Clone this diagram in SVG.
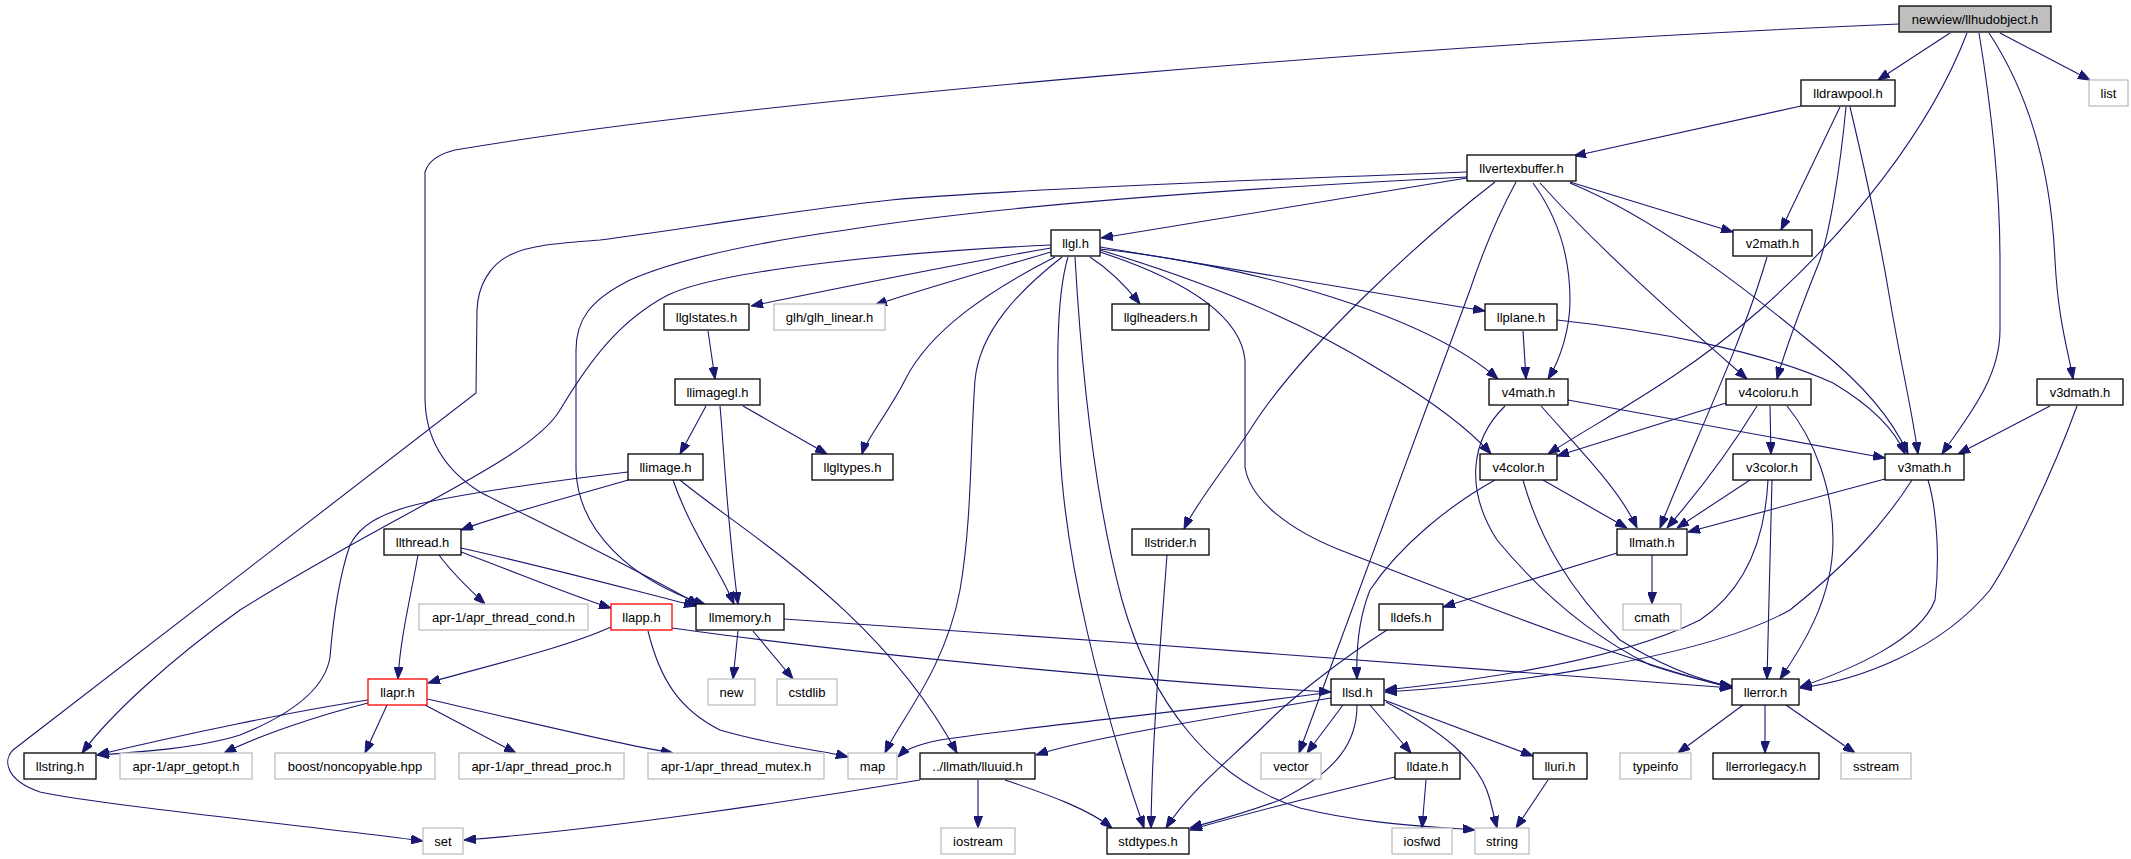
<svg xmlns="http://www.w3.org/2000/svg" width="2131" height="859" viewBox="0 0 2131 859">
<defs>
<style>
.n rect{fill:#ffffff;stroke:#000000;stroke-width:1.3}
.g rect{fill:#ffffff;stroke:#bfbfbf;stroke-width:1.3}
.r rect{fill:#ffffff;stroke:#ff0000;stroke-width:1.3}
.root rect{fill:#bfbfbf;stroke:#000000;stroke-width:1.3}
text{font-family:"Liberation Sans",Arial,sans-serif;font-size:13px;text-anchor:middle;fill:#000000}
#edges path{fill:none;stroke:#191970;stroke-width:1.1;marker-end:url(#ah)}
</style>
<marker id="ah" viewBox="0 0 12 9" refX="12" refY="4.5" markerWidth="12" markerHeight="9" markerUnits="userSpaceOnUse" orient="auto"><path d="M0,0 L12,4.5 L0,9 z" fill="#191970" stroke="#191970" stroke-width="1"/></marker>
</defs>
<rect x="0" y="0" width="2131" height="859" fill="#ffffff"/>
<g id="edges">
<path d="M1899,24 C1400,45 750,100 455,150 Q430,156 425,172 L425,397 C425,440 445,470 480,492 C520,513 620,560 699,605"/>
<path d="M1950,33 L1878,80"/>
<path d="M1967,33 C1930,130 1850,230 1760,310 C1680,380 1600,420 1548,454"/>
<path d="M1979,33 C1990,100 2000,180 2000,260 L2000,330 C2000,380 1965,420 1942,454"/>
<path d="M1989,33 C2020,80 2050,150 2055,260 C2058,320 2068,350 2073,379"/>
<path d="M2000,33 L2090,80"/>
<path d="M1801,106 L1574,156"/>
<path d="M1840,107 L1781,230"/>
<path d="M1846,107 C1840,170 1830,230 1820,260 C1800,310 1785,350 1777,379"/>
<path d="M1850,107 C1865,170 1880,240 1890,300 C1900,360 1912,410 1918,454"/>
<path d="M1467,178 L1101,238"/>
<path d="M1570,182 L1733,232"/>
<path d="M1467,177 C1250,188 1000,205 846,230 C760,242 680,258 630,280 C590,300 576,320 576,350 L576,470 C578,530 630,580 706,605"/>
<path d="M1467,172 C1250,180 1000,190 891,200 C780,212 680,230 600,240 C560,243 530,245 510,255 C490,265 478,285 477,310 L476,393 L13,750 C3,760 5,780 40,792 C100,805 300,825 423,841"/>
<path d="M1495,182 C1420,240 1300,350 1250,430 C1220,475 1195,505 1184,529"/>
<path d="M1516,182 Q1490,230 1470,290 L1299,753"/>
<path d="M1533,183 C1560,220 1570,260 1570,300 C1570,330 1560,360 1548,379"/>
<path d="M1540,183 C1600,250 1680,320 1747,379"/>
<path d="M1570,183 C1660,220 1760,300 1820,350 C1870,390 1895,425 1908,454"/>
<path d="M1557,320 C1650,330 1760,350 1833,383 C1870,405 1895,430 1905,454"/>
<path d="M1523,331 L1526,379"/>
<path d="M1051,248 C950,265 830,290 751,306"/>
<path d="M1051,252 C990,270 920,290 875,305"/>
<path d="M1055,257 C990,290 930,330 905,380 C890,410 866,440 862,454"/>
<path d="M1051,245 C900,252 720,270 668,295 C620,320 590,360 560,410 C530,460 400,510 240,610 C170,660 110,715 82,753"/>
<path d="M1062,257 C1020,290 980,330 975,380 C970,450 972,520 960,590 C945,670 900,720 885,753"/>
<path d="M1068,257 C1055,300 1057,380 1060,450 C1065,560 1100,700 1144,828"/>
<path d="M1075,257 C1082,380 1095,500 1122,600 C1150,700 1210,780 1300,808 C1370,825 1430,826 1475,830"/>
<path d="M1090,257 C1110,270 1125,285 1140,304"/>
<path d="M1100,247 L1485,311"/>
<path d="M1100,249 C1230,262 1420,310 1498,379"/>
<path d="M1100,250 C1200,280 1300,320 1380,370 C1430,400 1470,430 1491,454"/>
<path d="M1100,252 C1170,275 1240,310 1245,360 L1245,467 C1250,500 1290,530 1340,550 C1470,600 1620,660 1732,688"/>
<path d="M628,472 C560,480 450,495 407,507 C380,515 360,525 350,545 C338,580 333,620 330,657 C325,690 290,715 240,735 C200,748 140,752 97,755"/>
<path d="M628,480 C560,500 500,515 461,530"/>
<path d="M673,480 C690,530 720,570 734,604"/>
<path d="M680,480 C740,530 880,610 957,753"/>
<path d="M706,406 L680,454"/>
<path d="M720,406 C724,450 727,520 738,604"/>
<path d="M743,406 L827,454"/>
<path d="M708,331 L715,379"/>
<path d="M439,555 C450,570 470,590 485,604"/>
<path d="M461,552 C510,570 570,595 611,608"/>
<path d="M461,548 C560,570 650,595 696,606"/>
<path d="M418,555 C410,600 400,640 398,679"/>
<path d="M611,627 C560,650 470,670 428,683"/>
<path d="M648,631 C660,680 680,710 720,730 C770,745 820,750 848,757"/>
<path d="M672,628 C900,660 1200,685 1331,692"/>
<path d="M738,631 L733,679"/>
<path d="M753,631 L793,679"/>
<path d="M784,619 C1100,640 1500,670 1732,688"/>
<path d="M368,700 C300,710 180,735 97,755"/>
<path d="M368,703 C320,715 260,735 224,753"/>
<path d="M387,705 L365,753"/>
<path d="M425,705 L516,753"/>
<path d="M427,699 C520,720 620,745 673,753"/>
<path d="M920,780 C800,800 600,830 464,840"/>
<path d="M978,780 L978,828"/>
<path d="M1005,780 C1050,795 1090,810 1112,828"/>
<path d="M1331,692 C1200,710 1000,730 940,740 C915,745 905,750 898,757"/>
<path d="M1331,698 C1200,720 1080,740 1036,755"/>
<path d="M1343,705 L1307,753"/>
<path d="M1370,705 L1411,753"/>
<path d="M1384,700 L1533,756"/>
<path d="M1386,702 C1440,730 1480,760 1490,800 L1497,828"/>
<path d="M1357,705 C1357,740 1340,770 1280,800 C1240,815 1210,822 1190,828"/>
<path d="M1395,777 C1320,795 1240,815 1190,830"/>
<path d="M1426,780 L1422,828"/>
<path d="M1548,780 L1516,828"/>
<path d="M1387,630 C1340,660 1290,700 1270,720 C1230,760 1190,790 1166,828"/>
<path d="M1167,555 C1160,650 1152,740 1151,828"/>
<path d="M1743,705 L1678,753"/>
<path d="M1765,705 L1765,753"/>
<path d="M1786,705 L1855,753"/>
<path d="M1652,555 L1652,604"/>
<path d="M1617,553 L1443,607"/>
<path d="M1767,257 C1740,350 1690,450 1660,528"/>
<path d="M1568,400 L1885,458"/>
<path d="M1541,406 C1580,450 1620,490 1637,528"/>
<path d="M1505,406 C1470,440 1465,490 1497,540 C1530,580 1580,630 1650,665 C1690,678 1710,683 1732,686"/>
<path d="M1543,480 L1627,528"/>
<path d="M1523,480 C1540,540 1570,590 1620,640 C1660,665 1700,680 1732,687"/>
<path d="M1495,480 C1450,505 1400,545 1370,590 C1358,620 1356,650 1357,679"/>
<path d="M1726,403 L1557,456"/>
<path d="M1770,406 L1771,454"/>
<path d="M1757,406 C1730,450 1700,490 1667,528"/>
<path d="M1787,406 C1815,440 1833,490 1833,540 C1833,600 1800,650 1780,679"/>
<path d="M1750,480 L1677,528"/>
<path d="M1768,480 C1765,540 1745,590 1700,620 C1620,660 1480,680 1385,690"/>
<path d="M1772,480 C1770,560 1768,620 1767,679"/>
<path d="M1885,479 L1688,532"/>
<path d="M1912,480 C1880,530 1840,570 1790,610 C1700,660 1500,685 1385,692"/>
<path d="M1928,480 C1937,510 1940,560 1935,600 C1920,640 1850,670 1800,687"/>
<path d="M2050,406 L1958,454"/>
<path d="M2077,406 C2050,480 2010,560 1990,590 C1940,650 1860,680 1800,688"/>
</g>
<g id="hud" class="root"><rect x="1899" y="6" width="152" height="26"/><text x="1975" y="24">newview/llhudobject.h</text></g>
<g id="lldrawpool" class="n"><rect x="1801" y="80" width="94" height="26"/><text x="1848" y="98">lldrawpool.h</text></g>
<g id="list" class="g"><rect x="2089" y="80" width="39" height="26"/><text x="2108.5" y="98">list</text></g>
<g id="llvertexbuffer" class="n"><rect x="1467" y="155" width="109" height="26"/><text x="1521.5" y="173">llvertexbuffer.h</text></g>
<g id="llgl" class="n"><rect x="1051" y="230" width="49" height="26"/><text x="1075.5" y="248">llgl.h</text></g>
<g id="v2math" class="n"><rect x="1733" y="230" width="79" height="26"/><text x="1772.5" y="248">v2math.h</text></g>
<g id="llglstates" class="n"><rect x="664" y="304" width="85" height="26"/><text x="706.5" y="322">llglstates.h</text></g>
<g id="glh_linear" class="g"><rect x="774" y="304" width="111" height="26"/><text x="829.5" y="322">glh/glh_linear.h</text></g>
<g id="llglheaders" class="n"><rect x="1112" y="304" width="97" height="26"/><text x="1160.5" y="322">llglheaders.h</text></g>
<g id="llplane" class="n"><rect x="1485" y="304" width="72" height="26"/><text x="1521" y="322">llplane.h</text></g>
<g id="llimagegl" class="n"><rect x="675" y="379" width="85" height="26"/><text x="717.5" y="397">llimagegl.h</text></g>
<g id="v4math" class="n"><rect x="1489" y="379" width="79" height="26"/><text x="1528.5" y="397">v4math.h</text></g>
<g id="v4coloru" class="n"><rect x="1726" y="379" width="85" height="26"/><text x="1768.5" y="397">v4coloru.h</text></g>
<g id="v3dmath" class="n"><rect x="2037" y="379" width="86" height="26"/><text x="2080" y="397">v3dmath.h</text></g>
<g id="llimage" class="n"><rect x="628" y="454" width="75" height="26"/><text x="665.5" y="472">llimage.h</text></g>
<g id="llgltypes" class="n"><rect x="812" y="454" width="81" height="26"/><text x="852.5" y="472">llgltypes.h</text></g>
<g id="v4color" class="n"><rect x="1480" y="454" width="77" height="26"/><text x="1518.5" y="472">v4color.h</text></g>
<g id="v3color" class="n"><rect x="1733" y="454" width="78" height="26"/><text x="1772" y="472">v3color.h</text></g>
<g id="v3math" class="n"><rect x="1885" y="454" width="79" height="26"/><text x="1924.5" y="472">v3math.h</text></g>
<g id="llthread" class="n"><rect x="384" y="529" width="77" height="26"/><text x="422.5" y="547">llthread.h</text></g>
<g id="llstrider" class="n"><rect x="1132" y="529" width="77" height="26"/><text x="1170.5" y="547">llstrider.h</text></g>
<g id="llmath" class="n"><rect x="1617" y="529" width="70" height="26"/><text x="1652" y="547">llmath.h</text></g>
<g id="apr_thread_cond" class="g"><rect x="419" y="604" width="169" height="26"/><text x="503.5" y="622">apr-1/apr_thread_cond.h</text></g>
<g id="llapp" class="r"><rect x="611" y="604" width="61" height="26"/><text x="641.5" y="622">llapp.h</text></g>
<g id="llmemory" class="n"><rect x="696" y="604" width="88" height="26"/><text x="740" y="622">llmemory.h</text></g>
<g id="lldefs" class="n"><rect x="1379" y="604" width="64" height="26"/><text x="1411" y="622">lldefs.h</text></g>
<g id="cmath" class="g"><rect x="1623" y="604" width="58" height="26"/><text x="1652" y="622">cmath</text></g>
<g id="llapr" class="r"><rect x="368" y="679" width="59" height="26"/><text x="397.5" y="697">llapr.h</text></g>
<g id="new" class="g"><rect x="708" y="679" width="47" height="26"/><text x="731.5" y="697">new</text></g>
<g id="cstdlib" class="g"><rect x="777" y="679" width="60" height="26"/><text x="807" y="697">cstdlib</text></g>
<g id="llsd" class="n"><rect x="1331" y="679" width="53" height="26"/><text x="1357.5" y="697">llsd.h</text></g>
<g id="llerror" class="n"><rect x="1732" y="679" width="67" height="26"/><text x="1765.5" y="697">llerror.h</text></g>
<g id="llstring" class="n"><rect x="24" y="753" width="72" height="26"/><text x="60" y="771">llstring.h</text></g>
<g id="apr_getopt" class="g"><rect x="120" y="753" width="132" height="26"/><text x="186" y="771">apr-1/apr_getopt.h</text></g>
<g id="noncopyable" class="g"><rect x="275" y="753" width="160" height="26"/><text x="355" y="771">boost/noncopyable.hpp</text></g>
<g id="apr_thread_proc" class="g"><rect x="459" y="753" width="165" height="26"/><text x="541.5" y="771">apr-1/apr_thread_proc.h</text></g>
<g id="apr_thread_mutex" class="g"><rect x="648" y="753" width="176" height="26"/><text x="736" y="771">apr-1/apr_thread_mutex.h</text></g>
<g id="map" class="g"><rect x="848" y="753" width="49" height="26"/><text x="872.5" y="771">map</text></g>
<g id="lluuid" class="n"><rect x="920" y="753" width="115" height="26"/><text x="977.5" y="771">../llmath/lluuid.h</text></g>
<g id="vector" class="g"><rect x="1261" y="753" width="60" height="26"/><text x="1291" y="771">vector</text></g>
<g id="lldate" class="n"><rect x="1395" y="753" width="65" height="26"/><text x="1427.5" y="771">lldate.h</text></g>
<g id="lluri" class="n"><rect x="1533" y="753" width="54" height="26"/><text x="1560" y="771">lluri.h</text></g>
<g id="typeinfo" class="g"><rect x="1620" y="753" width="71" height="26"/><text x="1655.5" y="771">typeinfo</text></g>
<g id="llerrorlegacy" class="n"><rect x="1713" y="753" width="106" height="26"/><text x="1766" y="771">llerrorlegacy.h</text></g>
<g id="sstream" class="g"><rect x="1841" y="753" width="70" height="26"/><text x="1876" y="771">sstream</text></g>
<g id="set" class="g"><rect x="423" y="828" width="40" height="26"/><text x="443" y="846">set</text></g>
<g id="iostream" class="g"><rect x="941" y="828" width="74" height="26"/><text x="978" y="846">iostream</text></g>
<g id="stdtypes" class="n"><rect x="1107" y="828" width="82" height="26"/><text x="1148" y="846">stdtypes.h</text></g>
<g id="iosfwd" class="g"><rect x="1392" y="828" width="60" height="26"/><text x="1422" y="846">iosfwd</text></g>
<g id="string" class="g"><rect x="1475" y="828" width="54" height="26"/><text x="1502" y="846">string</text></g>
</svg>
